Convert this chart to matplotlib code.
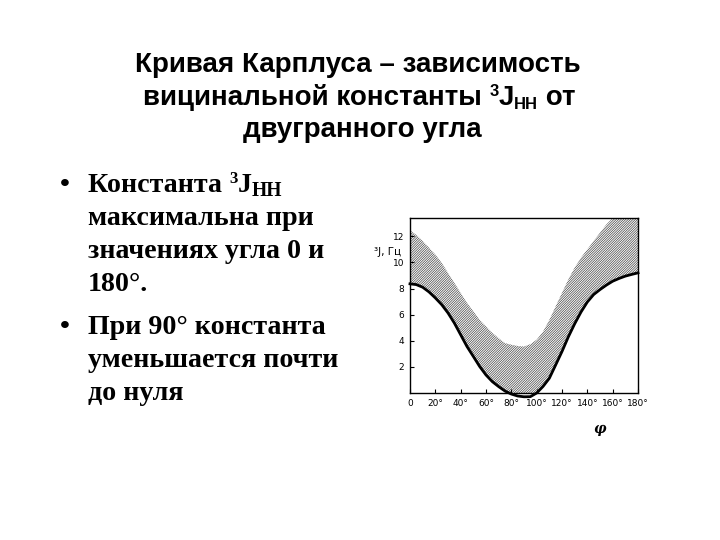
import matplotlib
matplotlib.use("Agg")
import matplotlib.pyplot as plt
import numpy as np

# dihedral angle, degrees
angles = [0, 5, 10, 15, 20, 25, 30, 35, 40, 45, 50, 55, 60, 65, 70, 75, 80, 85, 90,
          95, 100, 105, 110, 115, 120, 125, 130, 135, 140, 145, 150, 155, 160, 165, 170, 175, 180]
# lower edge (solid curve), Hz
lower = [8.36, 8.3, 8.1, 7.74, 7.28, 6.77, 6.13, 5.36, 4.46, 3.56, 2.8, 2.03, 1.38, 0.87, 0.49, 0.15, -0.08, -0.23, -0.29,
         -0.28, 0.0, 0.5, 1.13, 2.15, 3.18, 4.3, 5.3, 6.2, 6.97, 7.54, 7.92, 8.26, 8.56, 8.77, 8.95, 9.08, 9.2]
# upper edge of hatched band, Hz
upper = [12.46, 12.1, 11.64, 11.13, 10.6, 9.97, 9.2, 8.44, 7.67, 6.9, 6.26, 5.6, 5.1, 4.6, 4.2, 3.82, 3.7, 3.6, 3.56,
         3.74, 4.08, 4.7, 5.6, 6.64, 7.67, 8.7, 9.6, 10.36, 11.0, 11.64, 12.28, 12.9, 13.4, 13.9, 14.4, 14.9, 15.4]

xticks = [0, 20, 40, 60, 80, 100, 120, 140, 160, 180]
xticklabels = ["0", "20°", "40°", "60°", "80°", "100°", "120°", "140°", "160°", "180°"]
yticks = [2, 4, 6, 8, 10, 12]

W, H = 720, 540
fig = plt.figure(figsize=(7.2, 5.4), dpi=100)
fig.patch.set_facecolor("white")
renderer = fig.canvas.get_renderer()


def draw_runs(x, y, runs, family, center=False):
    # runs: (text, fontsize, dy in px); x, y in pixels from top-left
    texts = []
    for s, fs, dy in runs:
        t = fig.text(0, 0, s, fontsize=fs, family=family, weight="bold",
                     va="baseline", ha="left")
        texts.append((t, dy))
    widths = [t.get_window_extent(renderer).width for t, _ in texts]
    total = sum(widths)
    cx = x - total / 2 if center else x
    for (t, dy), w in zip(texts, widths):
        t.set_position((cx / W, 1 - (y - dy) / H))
        cx += w


# title
sans = "Liberation Sans"
tfs = 20
draw_runs(358, 72, [("Кривая Карплуса – зависимость", tfs, 0)], sans, center=True)
draw_runs(359, 105, [("вицинальной константы ", tfs, 0), ("3", tfs * 0.6, 9),
                     ("J", tfs, 0), ("HH", tfs * 0.6, -4), (" от", tfs, 0)], sans, center=True)
draw_runs(362, 137, [("двугранного угла", tfs, 0)], sans, center=True)

# bullets
serif = "Liberation Serif"
bfs = 20.2
bx = 88
lines = [
    [("Константа ", bfs, 0), ("3", bfs * 0.6, 9), ("J", bfs, 0), ("HH", bfs * 0.7, -4)],
    [("максимальна при", bfs, 0)],
    [("значениях угла 0 и", bfs, 0)],
    [("180°.", bfs, 0)],
    [("При 90° константа", bfs, 0)],
    [("уменьшается почти", bfs, 0)],
    [("до нуля", bfs, 0)],
]
ys = [192, 225, 258, 291, 334, 367, 400]
for runs, yy in zip(lines, ys):
    draw_runs(bx, yy, runs, serif)
for yy in [192, 334]:
    fig.text(60 / W, 1 - yy / H, "•", fontsize=bfs, family=serif, weight="bold", va="baseline")

# chart
ax = fig.add_axes([410 / W, 1 - 393 / H, 228 / W, 175 / H])
plt.rcParams["hatch.linewidth"] = 0.5
ax.fill_between(angles, lower, upper, facecolor="white", edgecolor="#444444",
                hatch="/" * 14, linewidth=0)
ax.plot(angles, lower, color="black", lw=2, clip_on=False)
ax.set_xlim(0, 180)
ax.set_ylim(0, 13.4)
ax.set_xticks(xticks)
ax.set_xticklabels(xticklabels)
ax.set_yticks(yticks)
ax.tick_params(direction="in", length=3, labelsize=6.5, pad=4, width=0.8)
for sp in ax.spines.values():
    sp.set_linewidth(1.0)
fig.text(374 / W, 1 - 255 / H, "³J, Гц", fontsize=7.5, family="DejaVu Sans")
fig.text(593 / W, 1 - 433 / H, "φ", fontsize=10, family="DejaVu Serif", style="italic", weight="bold")

fig.savefig("out.png", dpi=100)
